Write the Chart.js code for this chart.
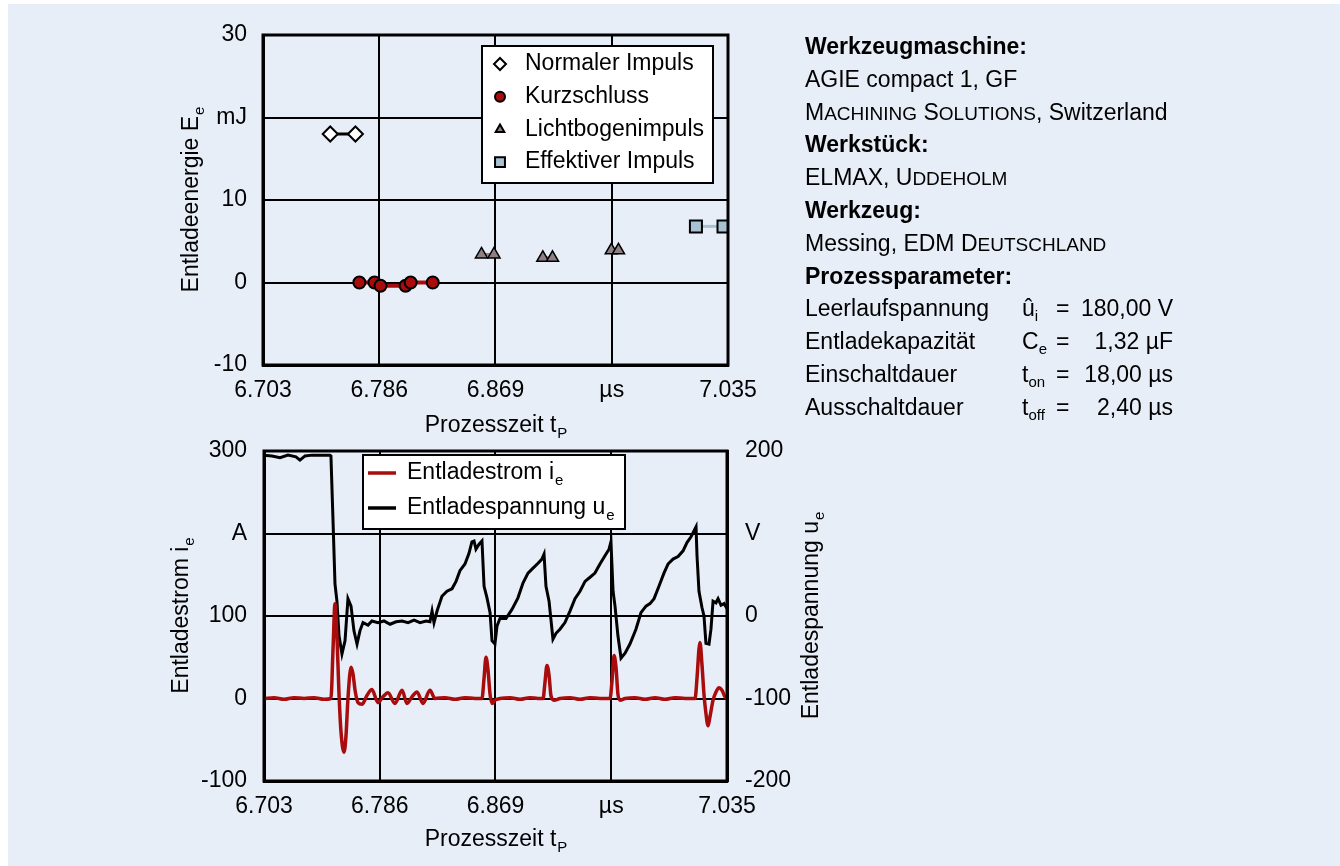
<!DOCTYPE html>
<html>
<head>
<meta charset="utf-8">
<script src="https://cdn.jsdelivr.net/npm/chart.js@4.4.1/dist/chart.umd.min.js"></script>
<style>
  html, body { margin: 0; padding: 0; background: #fff; }
  #panel { position: absolute; left: 8px; top: 4px; width: 1332px; height: 862px; background: #e7eef8; }
  canvas { position: absolute; }
  #info { position: absolute; left: 805px; top: 30px; width: 420px;
          font: 23px "Liberation Sans", Arial, sans-serif; color: #000; }
  #info .row { position: relative; height: 32.8px; line-height: 32.8px; white-space: nowrap; }
  #info b { font-weight: bold; }
  #info small { font-size: 19px; }
  #info .sym { position: absolute; left: 217px; }
  #info .eq { position: absolute; left: 251px; }
  #info .val { position: absolute; right: 52px; }
  #info sub { font-size: 15px; vertical-align: -5px; line-height: 0; }
</style>
</head>
<body>
<div id="panel"></div>
<canvas id="energy" width="790" height="445" style="left:0;top:0"></canvas>
<canvas id="wave" width="900" height="455" style="left:0;top:411px"></canvas>
<div id="info">
  <div class="row"><b>Werkzeugmaschine:</b></div>
  <div class="row">AGIE compact 1, GF</div>
  <div class="row">M<small>ACHINING</small> S<small>OLUTIONS</small>, Switzerland</div>
  <div class="row"><b>Werkstück:</b></div>
  <div class="row">ELMAX, U<small>DDEHOLM</small></div>
  <div class="row"><b>Werkzeug:</b></div>
  <div class="row">Messing, EDM D<small>EUTSCHLAND</small></div>
  <div class="row"><b>Prozessparameter:</b></div>
  <div class="row">Leerlaufspannung<span class="sym">û<sub>i</sub></span><span class="eq">=</span><span class="val">180,00 V</span></div>
  <div class="row">Entladekapazität<span class="sym">C<sub>e</sub></span><span class="eq">=</span><span class="val">1,32 µF</span></div>
  <div class="row">Einschaltdauer<span class="sym">t<sub>on</sub></span><span class="eq">=</span><span class="val">18,00 µs</span></div>
  <div class="row">Ausschaltdauer<span class="sym">t<sub>off</sub></span><span class="eq">=</span><span class="val">2,40 µs</span></div>
</div>
<script>
// Discharge energy per pulse (time in µs, energy in mJ)
const normalTime = [6.7510, 6.7690];
const normalEnergy = [18, 18];
const shortTime = [6.7718, 6.7826, 6.7869, 6.8048, 6.8084, 6.8242];
const shortEnergy = [0, 0, -0.4, -0.4, 0, 0];
const arcTime = [6.8590, 6.8679, 6.9028, 6.9097, 6.9517, 6.9568];
const arcEnergy = [3.4, 3.4, 3.0, 3.0, 3.9, 3.9];
const effTime = [7.0121, 7.0318];
const effEnergy = [6.8, 6.8];

// Axis ticks, unit labels sit in place of one tick
const timeTicks = [6.703, 6.786, 6.869, 6.952, 7.035];
const timeTickLabels = ['6.703', '6.786', '6.869', 'µs', '7.035'];
const energyTicks = [-10, 0, 10, 20, 30];
const energyTickLabels = ['-10', '0', '10', 'mJ', '30'];
const currentTicks = [-100, 0, 100, 200, 300];
const currentTickLabels = ['-100', '0', '100', 'A', '300'];
const voltageTicks = [-200, -100, 0, 100, 200];
const voltageTickLabels = ['-200', '-100', '0', 'V', '200'];

// Discharge voltage u_e (µs, V)
const uTime = [6.7030, 6.7087, 6.7145, 6.7202, 6.7259, 6.7288, 6.7324, 6.7374, 6.7432, 6.7503,
  6.7510, 6.7525, 6.7539, 6.7553, 6.7568, 6.7589, 6.7611, 6.7632, 6.7654, 6.7675,
  6.7697, 6.7718, 6.7740, 6.7776, 6.7804, 6.7847, 6.7890, 6.7934, 6.7977, 6.8020,
  6.8063, 6.8106, 6.8149, 6.8192, 6.8220, 6.8235, 6.8249, 6.8271, 6.8306, 6.8342,
  6.8378, 6.8407, 6.8435, 6.8471, 6.8500, 6.8521, 6.8536, 6.8550, 6.8572, 6.8593,
  6.8608, 6.8629, 6.8651, 6.8665, 6.8686, 6.8701, 6.8722, 6.8765, 6.8808, 6.8851,
  6.8887, 6.8923, 6.8959, 6.8995, 6.9023, 6.9038, 6.9052, 6.9074, 6.9102, 6.9124,
  6.9152, 6.9188, 6.9224, 6.9260, 6.9296, 6.9332, 6.9368, 6.9403, 6.9439, 6.9475,
  6.9504, 6.9518, 6.9533, 6.9547, 6.9568, 6.9590, 6.9619, 6.9654, 6.9697, 6.9733,
  6.9769, 6.9798, 6.9827, 6.9862, 6.9898, 6.9927, 6.9963, 6.9999, 7.0035, 7.0063,
  7.0092, 7.0113, 7.0128, 7.0135, 7.0149, 7.0171, 7.0185, 7.0199, 7.0221, 7.0235,
  7.0250, 7.0271, 7.0286, 7.0307, 7.0329, 7.0350];
const uValue = [195, 194, 192, 195, 193, 189, 194, 195, 195, 195,
  194, 115, 39, 18, -24, -46, -30, 21, 12, -18,
  -34, -18, -8, -11, -6, -8, -6, -10, -7, -6,
  -8, -5, -8, -6, -7, 6, -8, 6, 24, 30,
  33, 42, 55, 63, 76, 90, 91, 81, 87, 91,
  36, 22, 4, -30, -34, -12, -3, -3, 8, 22,
  40, 52, 58, 64, 69, 75, 36, 18, -28, -21,
  -16, -8, 6, 21, 30, 42, 47, 52, 63, 73,
  81, 90, 30, 12, -24, -51, -45, -34, -16, 4,
  12, 15, 21, 36, 52, 63, 69, 72, 79, 89,
  96, 103, 108, 73, 30, 10, 0, -33, -34, -16,
  18, 16, 21, 13, 15, 9];

// Discharge current i_e (µs, A)
const iTime = [6.7030, 6.7102, 6.7173, 6.7245, 6.7317, 6.7389, 6.7460, 6.7510, 6.7525, 6.7539,
  6.7553, 6.7568, 6.7582, 6.7604, 6.7618, 6.7632, 6.7654, 6.7668, 6.7683, 6.7704,
  6.7733, 6.7769, 6.7804, 6.7847, 6.7883, 6.7919, 6.7969, 6.8020, 6.8055, 6.8091,
  6.8127, 6.8170, 6.8220, 6.8256, 6.8328, 6.8400, 6.8471, 6.8543, 6.8593, 6.8608,
  6.8622, 6.8636, 6.8651, 6.8665, 6.8686, 6.8722, 6.8794, 6.8866, 6.8937, 6.8995,
  6.9031, 6.9045, 6.9059, 6.9074, 6.9088, 6.9110, 6.9152, 6.9224, 6.9296, 6.9368,
  6.9439, 6.9511, 6.9525, 6.9540, 6.9554, 6.9568, 6.9583, 6.9619, 6.9690, 6.9762,
  6.9834, 6.9905, 6.9977, 7.0049, 7.0121, 7.0135, 7.0149, 7.0156, 7.0171, 7.0185,
  7.0199, 7.0214, 7.0228, 7.0250, 7.0271, 7.0293, 7.0314, 7.0336, 7.0350];
const iValue = [0, 1, -1, 1, 0, 1, -1, 0, 60, 115,
  75, 5, -40, -65, -45, 0, 38, 30, 10, -5,
  -7, 4, 11, -5, 2, 7, -6, 10, -6, 2,
  8, -6, 10, 0, 1, -1, 1, 0, 0, 25,
  50, 35, 5, -6, -2, 0, 1, -1, 1, 0,
  0, 20, 40, 28, 3, -2, 0, 1, -1, 1,
  0, 0, 20, 52, 38, 5, -2, 0, 1, -1,
  1, -1, 1, 0, 0, 25, 60, 68, 40, 5,
  -18, -33, -22, -2, 8, 13, 10, 2, 0];

const FAMILY = '"Liberation Sans", Arial, sans-serif';
const FONT = '23px ' + FAMILY;
const SUBFONT = '15px ' + FAMILY;

Chart.defaults.font.family = FAMILY;
Chart.defaults.font.size = 23;
Chart.defaults.color = '#000';

const pts = (xs, ys) => xs.map((x, i) => ({ x, y: ys[i] }));

function drawSubText(ctx, x, y, text, sub, align) {
  ctx.font = FONT;
  const w1 = ctx.measureText(text).width;
  ctx.font = SUBFONT;
  const w2 = sub ? ctx.measureText(sub).width : 0;
  const start = align === 'center' ? x - (w1 + w2) / 2 : x;
  ctx.textAlign = 'left';
  ctx.textBaseline = 'middle';
  ctx.font = FONT;
  ctx.fillText(text, start, y);
  if (sub) {
    ctx.font = SUBFONT;
    ctx.fillText(sub, start + w1 + 1, y + 8);
  }
}

function drawMarker(ctx, style, x, y, r, fill, stroke, lw) {
  ctx.beginPath();
  if (style === 'circle') {
    ctx.arc(x, y, r, 0, Math.PI * 2);
  } else if (style === 'rectRot') {
    ctx.moveTo(x, y - r); ctx.lineTo(x + r, y); ctx.lineTo(x, y + r); ctx.lineTo(x - r, y);
  } else if (style === 'triangle') {
    for (let k = 0; k < 3; k++) {
      const a = k * 2 * Math.PI / 3;
      ctx[k ? 'lineTo' : 'moveTo'](x + Math.sin(a) * r, y - Math.cos(a) * r);
    }
  } else {
    const s = r * Math.SQRT1_2;
    ctx.rect(x - s, y - s, 2 * s, 2 * s);
  }
  ctx.closePath();
  ctx.fillStyle = fill; ctx.fill();
  ctx.lineWidth = lw; ctx.strokeStyle = stroke; ctx.stroke();
}

const frame = {
  id: 'frame',
  afterDatasetsDraw(chart) {
    const { ctx, chartArea: a } = chart;
    ctx.save();
    ctx.lineWidth = 3; ctx.strokeStyle = '#000';
    ctx.strokeRect(a.left, a.top, a.right - a.left, a.bottom - a.top);
    ctx.restore();
  }
};

const axisTitles = {
  id: 'axisTitles',
  afterDraw(chart, args, opts) {
    const { ctx, chartArea: a } = chart;
    ctx.save();
    ctx.fillStyle = '#000';
    for (const t of opts.items) {
      ctx.save();
      if (t.side === 'bottom') {
        ctx.translate((a.left + a.right) / 2, a.bottom + t.offset);
      } else if (t.side === 'left') {
        ctx.translate(a.left - t.offset, (a.top + a.bottom) / 2);
        ctx.rotate(-Math.PI / 2);
      } else {
        ctx.translate(a.right + t.offset, (a.top + a.bottom) / 2);
        ctx.rotate(-Math.PI / 2);
      }
      drawSubText(ctx, 0, 0, t.text, t.sub, 'center');
      ctx.restore();
    }
    ctx.restore();
  }
};

const boxLegend = {
  id: 'boxLegend',
  afterDraw(chart, args, o) {
    const { ctx, chartArea: a } = chart;
    const x0 = o.fromRight ? a.right - o.dx : a.left + o.dx;
    const y0 = a.top + o.dy;
    ctx.save();
    ctx.fillStyle = '#fff';
    ctx.fillRect(x0, y0, o.width, o.height);
    ctx.lineWidth = 2; ctx.strokeStyle = '#000';
    ctx.strokeRect(x0, y0, o.width, o.height);
    o.items.forEach((it, i) => {
      const y = y0 + o.firstRow + i * o.rowGap;
      if (it.line) {
        ctx.beginPath();
        ctx.moveTo(x0 + o.symbolX - 14, y); ctx.lineTo(x0 + o.symbolX + 14, y);
        ctx.lineWidth = 3.5; ctx.strokeStyle = it.color; ctx.stroke();
      } else {
        drawMarker(ctx, it.style, x0 + o.symbolX, y, it.r, it.color, '#000', 2);
      }
      ctx.fillStyle = '#000';
      drawSubText(ctx, x0 + o.textX, y, it.text, it.sub, 'left');
    });
    ctx.restore();
  }
};

function fixedTicks(values) {
  return (scale) => { scale.ticks = values.map((v) => ({ value: v })); };
}

function axis(min, max, values, labels, pad, extra) {
  return Object.assign({
    min, max,
    afterBuildTicks: fixedTicks(values),
    ticks: { callback: (v, i) => labels[i], maxRotation: 0, autoSkip: false, padding: pad },
    grid: { color: '#000', lineWidth: 2, drawTicks: false },
    border: { color: '#000', width: 3 },
  }, extra);
}

// top: energy per pulse
new Chart(document.getElementById('energy'), {
  type: 'scatter',
  data: {
    datasets: [
      { label: 'Normaler Impuls', data: pts(normalTime, normalEnergy), showLine: true,
        borderColor: '#000', borderWidth: 3, pointStyle: 'rectRot', pointRadius: 7.5,
        pointBackgroundColor: '#fff', pointBorderColor: '#000', pointBorderWidth: 2 },
      { label: 'Kurzschluss', data: pts(shortTime, shortEnergy), showLine: true,
        borderColor: '#a80c0c', borderWidth: 4, pointStyle: 'circle', pointRadius: 6,
        pointBackgroundColor: '#a80c0c', pointBorderColor: '#000', pointBorderWidth: 2 },
      { label: 'Lichtbogenimpuls', data: pts(arcTime, arcEnergy), showLine: true,
        borderColor: '#9c8484', borderWidth: 3, pointStyle: 'triangle', pointRadius: 7,
        pointBackgroundColor: '#8d7f83', pointBorderColor: '#000', pointBorderWidth: 1.5,
        segment: { borderColor: (c) => (c.p0DataIndex % 2 === 1 ? 'rgba(0,0,0,0)' : '#9c8484') } },
      { label: 'Effektiver Impuls', data: pts(effTime, effEnergy), showLine: true,
        borderColor: '#a9c2d2', borderWidth: 3, pointStyle: 'rect', pointRadius: 8.5,
        pointBackgroundColor: '#a9c2d2', pointBorderColor: '#000', pointBorderWidth: 2 },
    ],
  },
  options: {
    responsive: false,
    animation: false,
    events: [],
    layout: { padding: { top: 35, right: 62, left: 0, bottom: 0 } },
    scales: {
      x: axis(6.703, 7.035, timeTicks, timeTickLabels, 12, {
        type: 'linear', afterFit: (s) => { s.height = 80; } }),
      y: axis(-10, 30, energyTicks, energyTickLabels, 16, {
        afterFit: (s) => { s.width = 263; } }),
    },
    plugins: {
      legend: { display: false },
      tooltip: { enabled: false },
      axisTitles: { items: [
        { side: 'left', offset: 71, text: 'Entladeenergie E', sub: 'e' },
        { side: 'bottom', offset: 61, text: 'Prozesszeit t', sub: 'P' },
      ] },
      boxLegend: { fromRight: true, dx: 246, dy: 11, width: 231, height: 137,
        firstRow: 18, rowGap: 32.7, symbolX: 18, textX: 43, items: [
          { style: 'rectRot', r: 6, color: '#fff', text: 'Normaler Impuls' },
          { style: 'circle', r: 5, color: '#a80c0c', text: 'Kurzschluss' },
          { style: 'triangle', r: 5, color: '#8d7f83', text: 'Lichtbogenimpuls' },
          { style: 'rect', r: 7, color: '#a9c2d2', text: 'Effektiver Impuls' },
        ] },
    },
  },
  plugins: [frame, axisTitles, boxLegend],
});

// bottom: current and voltage waveforms
new Chart(document.getElementById('wave'), {
  type: 'line',
  data: {
    datasets: [
      { label: 'Entladestrom i', data: pts(iTime, iValue), yAxisID: 'yI',
        borderColor: '#a80c0c', borderWidth: 3.5, pointRadius: 0, cubicInterpolationMode: 'monotone' },
      { label: 'Entladespannung u', data: pts(uTime, uValue), yAxisID: 'yU',
        borderColor: '#000', borderWidth: 3, pointRadius: 0, tension: 0 },
    ],
  },
  options: {
    responsive: false,
    animation: false,
    events: [],
    layout: { padding: { top: 40, right: 0, left: 0, bottom: 0 } },
    scales: {
      x: axis(6.703, 7.035, timeTicks, timeTickLabels, 12, {
        type: 'linear', afterFit: (s) => { s.height = 85; } }),
      yI: axis(-100, 300, currentTicks, currentTickLabels, 17, {
        position: 'left', afterFit: (s) => { s.width = 264; } }),
      yU: axis(-200, 200, voltageTicks, voltageTickLabels, 18, {
        position: 'right', grid: { drawOnChartArea: false, drawTicks: false },
        afterFit: (s) => { s.width = 173; } }),
    },
    plugins: {
      legend: { display: false },
      tooltip: { enabled: false },
      axisTitles: { items: [
        { side: 'left', offset: 82, text: 'Entladestrom i', sub: 'e' },
        { side: 'right', offset: 85, text: 'Entladespannung u', sub: 'e' },
        { side: 'bottom', offset: 59, text: 'Prozesszeit t', sub: 'P' },
      ] },
      boxLegend: { fromRight: false, dx: 99, dy: 4, width: 262, height: 74,
        firstRow: 18, rowGap: 35, symbolX: 19, textX: 44, items: [
          { line: true, color: '#a80c0c', text: 'Entladestrom i', sub: 'e' },
          { line: true, color: '#000', text: 'Entladespannung u', sub: 'e' },
        ] },
    },
  },
  plugins: [frame, axisTitles, boxLegend],
});
</script>
</body>
</html>
